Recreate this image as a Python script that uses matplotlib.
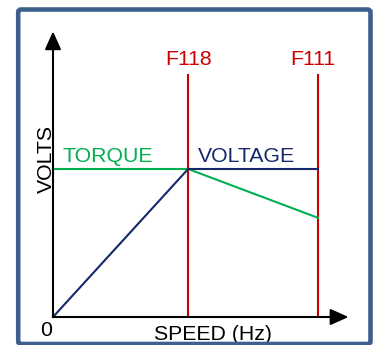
"""
V/f curve sketch: voltage and torque against speed,
with the base (F118) and max (F111) frequency markers.
"""

import matplotlib.pyplot as plt
from matplotlib.patches import FancyBboxPatch

plt.rcParams["font.family"] = ["Liberation Sans", "DejaVu Sans"]

# ======================================================
# DATA (speed in % of F111, volts in % of rated)
# ======================================================

markers = ["F118", "F111"]
marker_speed = [51, 100]

voltage_speed = [0, 51, 100]
voltage_volts = [0, 100, 100]

torque_speed = [0, 51, 100]
torque_volts = [100, 100, 67]

RED = "#CC0000"
GREEN = "#00B050"
NAVY = "#13296B"
FRAME = "#3C5F8D"
FS = 15.3

# pixel scale of one data unit
sx, sy = 2.65, 1.48

fig = plt.figure(figsize=(3.77, 3.45), dpi=100)
ax = fig.add_axes([0, 0, 1, 1])
ax.set_xlim(-53 / sx, (377 - 53) / sx)
ax.set_ylim(-(345 - 317) / sy, 317 / sy)
ax.axis("off")

lw = 1.5

# axes with arrows
arrow = dict(arrowstyle="-|>,head_length=1.0,head_width=0.45", color="black",
             lw=lw, shrinkA=0, shrinkB=0, mutation_scale=11)
ax.annotate("", xy=(111.5, 0), xytext=(0, 0), arrowprops=arrow)
ax.annotate("", xy=(0, 193), xytext=(0, 0), arrowprops=arrow)

# frequency markers
for name, x in zip(markers, marker_speed):
    ax.plot([x, x], [0, 164], color=RED, lw=lw, solid_capstyle="butt")
    ax.text(x + 0.2 if name == "F118" else x - 1.8, 170.5, name, color=RED,
            fontsize=FS, ha="center", va="baseline")

ax.plot(torque_speed, torque_volts, color=GREEN, lw=lw)
ax.plot(voltage_speed, voltage_volts, color=NAVY, lw=lw)

ax.text(3.6, 104.5, "TORQUE", color=GREEN, fontsize=FS, va="baseline")
ax.text(54.5, 104.5, "VOLTAGE", color=NAVY, fontsize=FS, va="baseline")

ax.text(-2.4, 106.5, "VOLTS", rotation=90, fontsize=FS,
        ha="center", va="center")
ax.text(-2.6, -12.6, "0", fontsize=FS, ha="center", va="baseline")
ax.text(38.2, -15.8, "SPEED (Hz)", fontsize=FS, va="baseline")

# outer frame
frame = FancyBboxPatch((18.2 / 377, 1 - 344 / 345),
                       (370.5 - 18.2) / 377, (344 - 9.5) / 345,
                       boxstyle="round,pad=0,rounding_size=0.008",
                       transform=fig.transFigure, fill=False,
                       edgecolor=FRAME, lw=3.3, zorder=10)
fig.patches.append(frame)

fig.savefig("out.png", dpi=100)
